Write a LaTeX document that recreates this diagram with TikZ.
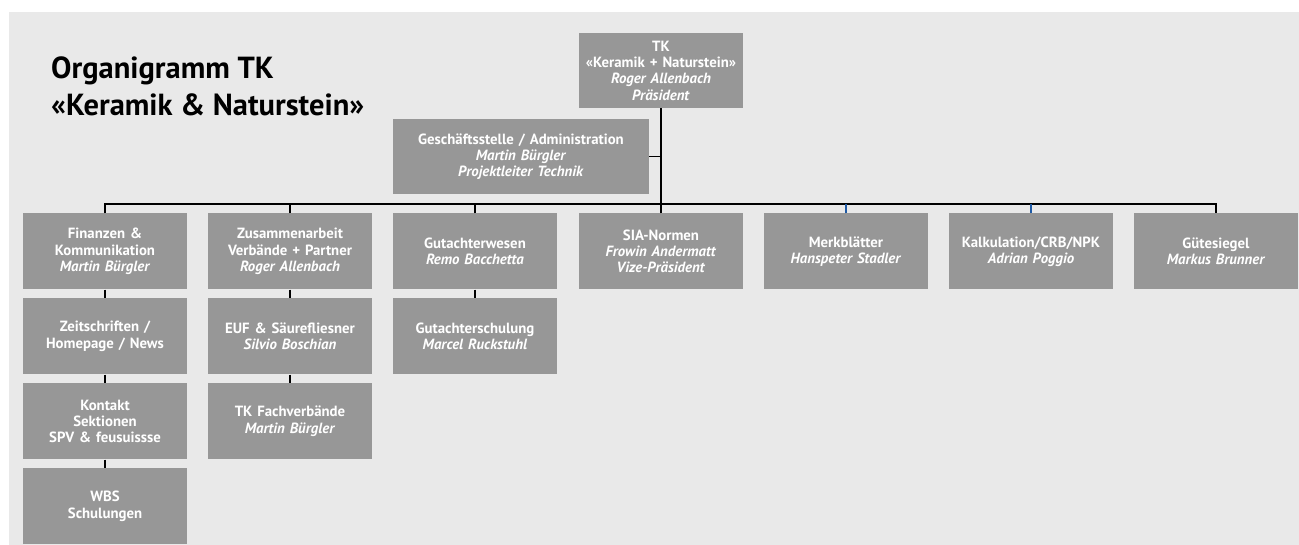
\documentclass[tikz,border=0pt]{standalone}
\usepackage{fontspec}
\setmainfont{PT Sans}
\usetikzlibrary{positioning}
\definecolor{boxgray}{RGB}{151,151,151}
\definecolor{paper}{RGB}{233,233,233}
\definecolor{linkblue}{RGB}{30,90,165}
\begin{document}
\begin{tikzpicture}[
    x=1pt, y=-1pt,
    node distance=8.5pt,
    unit/.style={fill=boxgray, text=white, font=\fontsize{14.8}{16.3}\selectfont\bfseries, minimum width=164pt, minimum height=76pt, text width=158pt, align=center, inner sep=3pt},
    office/.style={unit, minimum width=256pt, minimum height=75pt, text width=250pt},
    head/.style={unit, minimum height=75pt},
    link/.style={line width=1.2pt, draw=black},
    bluelink/.style={link, draw=linkblue},
]
\path[use as bounding box] (0,0) rectangle (1299,545);
\fill[paper] (9,12) rectangle (1299,545);
\node[anchor=north west, inner sep=0pt, align=left, font=\fontsize{30.5}{37}\selectfont\bfseries] (title) at (51,56.5) {Organigramm TK\\«Keramik \& Naturstein»};
\node[head] (tk) at (661,70.5) {TK\\«Keramik + Naturstein»\\\textit{Roger Allenbach}\\\textit{Präsident}};
\node[office] (gs) at (521,156.5) {Geschäftsstelle / Administration\\\textit{Martin Bürgler}\\\textit{Projektleiter Technik}};
\node[unit] (fin)   at (105,251.5)  {Finanzen \&\\Kommunikation\\\textit{Martin Bürgler}};
\node[unit] (zus)   at (290,251.5)  {Zusammenarbeit\\Verbände + Partner\\\textit{Roger Allenbach}};
\node[unit] (gut)   at (475,251.5)  {Gutachterwesen\\\textit{Remo Bacchetta}};
\node[unit] (sia)   at (661,251.5)  {SIA-Normen\\\textit{Frowin Andermatt}\\\textit{Vize-Präsident}};
\node[unit] (merk)  at (846,251.5)  {Merkblätter\\\textit{Hanspeter Stadler}};
\node[unit] (kalk)  at (1031,251.5) {Kalkulation/CRB/NPK\\\textit{Adrian Poggio}};
\node[unit] (guete) at (1216,251.5) {Gütesiegel\\\textit{Markus Brunner}};
\node[unit, below=of fin] (zeit) {Zeitschriften /\\Homepage / News};
\node[unit, below=of zeit] (kontakt) {Kontakt\\Sektionen\\SPV \& feusuissse};
\node[unit, below=of kontakt] (wbs) {WBS\\Schulungen};
\node[unit, below=of zus] (euf) {EUF \& Säurefliesner\\\textit{Silvio Boschian}};
\node[unit, below=of euf] (fach) {TK Fachverbände\\\textit{Martin Bürgler}};
\node[unit, below=of gut] (schul) {Gutachterschulung\\\textit{Marcel Ruckstuhl}};
\coordinate (bus) at (0,204);
\draw[link] (tk.south) -- (tk.south |- bus);
\draw[link] (gs.east) -- (gs.east -| tk.south);
\draw[link] (fin.north) |- (bus -| guete.north) -- (guete.north);
\foreach \n in {zus,gut,sia}
  \draw[link] (\n.north) -- (\n.north |- bus);
\foreach \n in {merk,kalk}
  \draw[bluelink] (\n.north) -- (\n.north |- bus);
\foreach \a/\b in {fin/zeit, zeit/kontakt, kontakt/wbs, zus/euf, euf/fach, gut/schul}
  \draw[link] (\a) -- (\b);
\end{tikzpicture}
\end{document}
